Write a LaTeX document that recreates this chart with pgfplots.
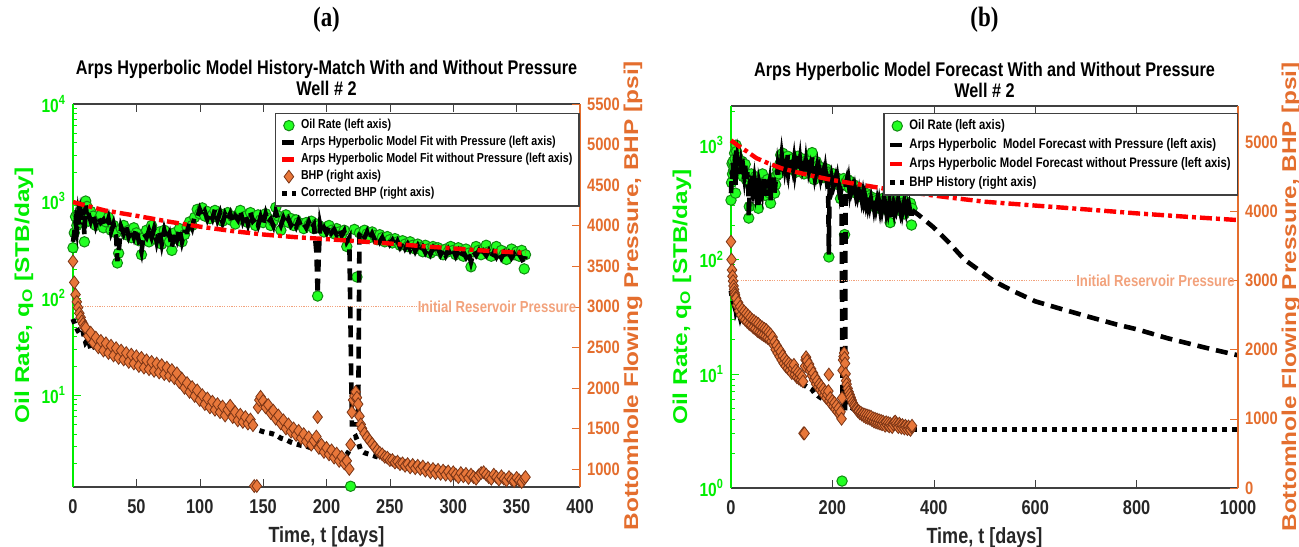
\documentclass[border=0pt]{standalone}
\usepackage{fontspec}
\setmainfont{Liberation Sans}[FakeStretch=0.82]
\newfontfamily\rotfont{Liberation Sans}[FakeStretch=1.22]
\newfontfamily\serfont{Liberation Serif}[FakeStretch=0.82]
\usepackage{pgfplots}
\usepackage{pgfplotstable}
\pgfplotsset{compat=1.18}
\definecolor{qGreen}{HTML}{00EE00}
\definecolor{qFill}{HTML}{22FF22}
\definecolor{qEdge}{HTML}{128A12}
\definecolor{pOrange}{HTML}{E46E2E}
\definecolor{pFill}{HTML}{E8773A}
\definecolor{pEdge}{HTML}{7A3516}
\definecolor{irp}{HTML}{F2A27C}
\definecolor{axGray}{HTML}{404040}

% oil rate history (STB/day)
\pgfplotstableread[row sep=\\]{
t q\\
0 330\\ 1 470\\ 2 690\\ 3 560\\ 4 720\\ 5 600\\ 6 640\\ 7 850\\ 8 760\\ 9 380\\ 10 1000\\ 11 880\\ 12 620\\ 13 740\\ 14 780\\ 16 700\\ 18 560\\ 20 640\\ 22 720\\ 24 530\\ 26 610\\ 28 680\\ 30 500\\ 32 560\\ 34 470\\ 35 230\\ 36 290\\ 38 520\\ 40 560\\ 42 450\\ 44 500\\ 46 420\\ 48 530\\ 50 470\\ 52 390\\ 54 280\\ 56 420\\ 58 500\\ 60 380\\ 62 560\\ 64 450\\ 66 400\\ 68 480\\ 70 360\\ 72 500\\ 74 430\\ 76 380\\ 78 310\\ 80 470\\ 82 410\\ 84 520\\ 86 380\\ 88 450\\ 90 540\\ 92 610\\ 94 560\\ 96 680\\ 98 820\\ 100 740\\ 102 850\\ 104 700\\ 106 780\\ 108 660\\ 110 720\\ 112 800\\ 114 680\\ 116 740\\ 118 620\\ 120 700\\ 122 760\\ 124 640\\ 126 690\\ 128 580\\ 130 720\\ 132 800\\ 134 650\\ 136 700\\ 138 600\\ 140 760\\ 142 680\\ 144 560\\ 146 720\\ 148 640\\ 150 600\\ 152 740\\ 154 660\\ 156 560\\ 158 620\\ 160 860\\ 162 700\\ 164 500\\ 166 640\\ 168 720\\ 170 600\\ 172 660\\ 174 560\\ 176 640\\ 178 600\\ 180 580\\ 182 520\\ 184 600\\ 186 560\\ 188 620\\ 190 520\\ 192 580\\ 193 105\\ 194 560\\ 196 520\\ 198 480\\ 200 540\\ 202 560\\ 204 500\\ 206 460\\ 208 520\\ 210 480\\ 212 450\\ 214 500\\ 216 340\\ 219 1.15\\ 222 510\\ 224 165\\ 226 470\\ 228 440\\ 230 500\\ 232 460\\ 234 420\\ 236 480\\ 238 440\\ 240 400\\ 242 450\\ 244 420\\ 246 380\\ 248 430\\ 250 400\\ 252 370\\ 254 410\\ 256 380\\ 258 350\\ 260 390\\ 262 360\\ 264 340\\ 266 380\\ 268 350\\ 270 320\\ 272 360\\ 274 330\\ 276 300\\ 278 350\\ 280 320\\ 282 290\\ 284 340\\ 286 310\\ 288 330\\ 290 300\\ 292 280\\ 294 320\\ 296 300\\ 298 340\\ 300 310\\ 302 280\\ 304 330\\ 306 300\\ 308 270\\ 310 320\\ 312 290\\ 314 210\\ 316 300\\ 318 340\\ 320 310\\ 322 280\\ 324 320\\ 326 350\\ 328 300\\ 330 270\\ 332 320\\ 334 340\\ 336 290\\ 338 310\\ 340 280\\ 342 250\\ 344 300\\ 346 320\\ 348 280\\ 350 300\\ 352 270\\ 354 310\\ 356 200\\ 357 280\\
}\oilrate

% Arps hyperbolic model with pressure, history period
\pgfplotstableread[row sep=\\]{
t q\\
0 380\\ 1 470\\ 2 600\\ 3 500\\ 4 700\\ 5 560\\ 6 740\\ 7 620\\ 8 820\\ 9 450\\ 10 900\\ 11 700\\ 12 760\\ 14 620\\ 16 740\\ 18 560\\ 20 680\\ 22 600\\ 24 640\\ 26 540\\ 28 660\\ 30 480\\ 32 580\\ 34 440\\ 35 240\\ 36 300\\ 38 540\\ 40 460\\ 42 540\\ 44 430\\ 46 500\\ 48 420\\ 50 520\\ 52 380\\ 54 300\\ 56 460\\ 58 420\\ 60 500\\ 62 420\\ 64 520\\ 66 380\\ 68 500\\ 70 360\\ 72 500\\ 74 400\\ 76 460\\ 78 330\\ 80 480\\ 82 400\\ 84 520\\ 86 380\\ 88 480\\ 90 480\\ 92 620\\ 94 530\\ 96 700\\ 98 680\\ 100 820\\ 102 700\\ 104 780\\ 106 650\\ 108 760\\ 110 660\\ 112 820\\ 114 640\\ 116 760\\ 118 600\\ 120 730\\ 122 640\\ 124 740\\ 126 600\\ 128 700\\ 130 640\\ 132 800\\ 134 620\\ 136 730\\ 138 580\\ 140 760\\ 142 620\\ 144 660\\ 146 560\\ 148 690\\ 150 580\\ 152 740\\ 154 600\\ 156 650\\ 158 560\\ 160 780\\ 162 640\\ 164 560\\ 166 670\\ 168 580\\ 170 650\\ 172 560\\ 174 610\\ 176 540\\ 178 630\\ 180 550\\ 182 590\\ 184 530\\ 186 610\\ 188 520\\ 190 570\\ 192 300\\ 193 110\\ 194 300\\ 195 560\\ 196 480\\ 198 530\\ 200 470\\ 202 550\\ 204 470\\ 206 510\\ 208 450\\ 210 510\\ 212 440\\ 214 490\\ 216 380\\ 218 420\\ 220 5\\ 225 5\\ 226 450\\ 228 490\\ 230 420\\ 232 480\\ 234 400\\ 236 460\\ 238 400\\ 240 430\\ 242 380\\ 244 420\\ 246 370\\ 248 410\\ 250 360\\ 252 395\\ 254 345\\ 256 385\\ 258 335\\ 260 375\\ 262 325\\ 264 360\\ 266 315\\ 268 355\\ 270 305\\ 272 345\\ 274 300\\ 276 335\\ 278 295\\ 280 330\\ 282 285\\ 284 325\\ 286 285\\ 288 320\\ 290 280\\ 292 315\\ 294 275\\ 296 315\\ 298 275\\ 300 310\\ 302 270\\ 304 305\\ 306 265\\ 308 300\\ 310 265\\ 312 300\\ 314 235\\ 316 300\\ 318 275\\ 320 305\\ 322 265\\ 324 300\\ 326 275\\ 328 305\\ 330 265\\ 332 295\\ 334 265\\ 336 300\\ 338 260\\ 340 290\\ 342 255\\ 344 290\\ 346 260\\ 348 285\\ 350 255\\ 352 285\\ 354 255\\ 356 225\\ 357 270\\
}\modelp

% forecast with pressure beyond history
\pgfplotstableread[row sep=\\]{
t q\\
357 270\\ 370 245\\ 380 225\\ 400 190\\ 430 140\\ 460 100\\ 490 80\\ 520 64\\ 560 52\\ 600 43\\ 650 37\\ 700 32\\ 760 27\\ 800 24.5\\ 860 20.5\\ 900 18.5\\ 950 16.3\\ 1000 14.5\\
}\fcastp

% Arps hyperbolic without pressure
\pgfplotstableread[row sep=\\]{
t q\\
0 977\\ 10 900\\ 25 800\\ 50 705\\ 75 615\\ 100 545\\ 125 492\\ 150 452\\ 175 425\\ 200 405\\ 225 385\\ 250 365\\ 275 343\\ 300 325\\ 325 308\\ 357 292\\
}\fitA
\pgfplotstableread[row sep=\\]{
t q\\
0 1100\\ 10 1020\\ 20 950\\ 30 890\\ 50 770\\ 75 690\\ 100 626\\ 150 551\\ 200 495\\ 250 455\\ 300 418\\ 357 385\\ 400 362\\ 450 340\\ 500 320\\ 600 296\\ 700 274\\ 800 253\\ 900 236\\ 1000 221\\
}\fitB

% bottomhole pressure (psi)
\pgfplotstableread[row sep=\\]{
t p\\
0 3560\\ 1 3300\\ 2 3150\\ 3 3060\\ 4 2990\\ 5 2920\\ 6 2870\\ 7 2820\\ 8 2790\\ 9 2750\\ 10 2740\\ 12 2640\\ 14 2680\\ 16 2560\\ 18 2620\\ 20 2500\\ 22 2580\\ 24 2460\\ 26 2550\\ 28 2430\\ 30 2520\\ 32 2400\\ 34 2490\\ 36 2370\\ 38 2460\\ 40 2350\\ 42 2430\\ 44 2320\\ 46 2410\\ 48 2300\\ 50 2390\\ 52 2270\\ 54 2370\\ 56 2250\\ 58 2340\\ 60 2230\\ 62 2320\\ 64 2210\\ 66 2300\\ 68 2190\\ 70 2280\\ 72 2170\\ 74 2250\\ 76 2150\\ 78 2220\\ 80 2120\\ 82 2180\\ 84 2070\\ 86 2110\\ 88 2000\\ 90 2060\\ 92 1950\\ 94 2010\\ 96 1900\\ 98 1970\\ 100 1850\\ 102 1910\\ 104 1800\\ 106 1870\\ 108 1760\\ 110 1830\\ 112 1730\\ 114 1800\\ 116 1700\\ 118 1770\\ 120 1660\\ 122 1730\\ 124 1780\\ 126 1640\\ 128 1700\\ 130 1600\\ 132 1670\\ 134 1580\\ 136 1640\\ 138 1560\\ 140 1610\\ 142 1540\\ 143 790\\ 145 790\\ 146 1760\\ 147 1850\\ 148 1890\\ 150 1840\\ 152 1760\\ 154 1790\\ 156 1690\\ 158 1720\\ 160 1620\\ 162 1660\\ 164 1560\\ 166 1600\\ 168 1500\\ 170 1550\\ 172 1460\\ 174 1500\\ 176 1420\\ 178 1470\\ 180 1380\\ 182 1430\\ 184 1340\\ 186 1390\\ 188 1300\\ 190 1350\\ 192 1400\\ 193 1640\\ 194 1260\\ 196 1300\\ 198 1210\\ 200 1260\\ 202 1180\\ 204 1230\\ 206 1140\\ 208 1190\\ 210 1100\\ 212 1150\\ 214 1070\\ 216 1100\\ 218 1000\\ 219 1300\\ 220 1700\\ 221 1850\\ 222 1900\\ 223 1950\\ 224 1880\\ 225 1800\\ 226 1650\\ 227 1550\\ 228 1500\\ 230 1440\\ 232 1390\\ 234 1350\\ 236 1310\\ 238 1270\\ 240 1230\\ 242 1200\\ 244 1180\\ 246 1150\\ 248 1140\\ 250 1110\\ 252 1110\\ 254 1080\\ 256 1090\\ 258 1060\\ 260 1070\\ 262 1040\\ 264 1060\\ 266 1020\\ 268 1050\\ 270 1010\\ 272 1040\\ 274 1000\\ 276 1030\\ 278 980\\ 280 1010\\ 282 960\\ 284 1000\\ 286 950\\ 288 990\\ 290 940\\ 292 980\\ 294 930\\ 296 970\\ 298 920\\ 300 960\\ 302 930\\ 304 900\\ 306 950\\ 308 910\\ 310 940\\ 312 890\\ 314 930\\ 316 900\\ 318 880\\ 320 920\\ 322 950\\ 324 960\\ 326 930\\ 328 900\\ 330 880\\ 332 930\\ 334 900\\ 336 870\\ 338 910\\ 340 880\\ 342 860\\ 344 900\\ 346 870\\ 348 850\\ 350 890\\ 352 860\\ 354 840\\ 356 880\\ 357 900\\
}\bhp

% corrected BHP (psi)
\pgfplotstableread[row sep=\\]{
t p\\
0 2850\\ 2 2760\\ 4 2700\\ 6 2650\\ 8 2680\\ 10 2560\\ 12 2600\\ 14 2480\\ 16 2530\\ 18 2470\\ 20 2520\\ 24 2450\\ 28 2500\\ 32 2430\\ 36 2460\\ 40 2380\\ 44 2400\\ 48 2350\\ 52 2370\\ 56 2310\\ 60 2320\\ 64 2280\\ 68 2290\\ 72 2240\\ 76 2250\\ 80 2210\\ 84 2180\\ 88 2100\\ 92 2050\\ 96 2000\\ 100 1930\\ 104 1880\\ 108 1830\\ 112 1790\\ 116 1760\\ 120 1720\\ 124 1700\\ 128 1660\\ 132 1640\\ 136 1600\\ 140 1540\\ 144 1490\\ 148 1470\\ 152 1450\\ 156 1440\\ 160 1420\\ 164 1380\\ 168 1360\\ 172 1330\\ 176 1310\\ 180 1290\\ 184 1280\\ 188 1260\\ 192 1250\\ 196 1240\\ 200 1230\\ 204 1210\\ 208 1200\\ 212 1190\\ 216 1180\\ 219 1250\\ 221 1380\\ 223 1400\\ 225 1330\\ 227 1230\\ 230 1200\\ 234 1180\\ 238 1160\\ 242 1140\\ 246 1130\\ 250 1110\\ 254 1100\\ 258 1090\\ 262 1080\\ 266 1070\\ 270 1060\\ 274 1050\\ 278 1040\\ 282 1030\\ 286 1020\\ 290 1010\\ 294 1000\\ 298 990\\ 302 970\\ 306 960\\ 310 950\\ 314 940\\ 318 930\\ 322 920\\ 326 910\\ 330 900\\ 334 895\\ 338 890\\ 342 880\\ 346 875\\ 350 870\\ 354 860\\ 357 850\\
}\bhpcor

\pgfplotsset{
  oilmk/.style={only marks, mark=*, mark size=2.6pt, mark options={fill=qFill, draw=qEdge, line width=0.5pt}},
  fitp/.style={black, line width=2.3pt, dash pattern=on 6pt off 3.5pt},
  fitnp/.style={red, line width=2.2pt, dash pattern=on 6pt off 2pt on 2pt off 2pt},
  bhpmk/.style={only marks, mark=diamond*, mark size=3.2pt, mark options={fill=pFill, draw=pEdge, line width=0.4pt}},
  bhpc/.style={black, line width=2.5pt, dash pattern=on 2.5pt off 2.5pt},
  irpline/.style={irp, line width=0.5pt, dash pattern=on 0.6pt off 0.6pt},
  panel/.style={scale only axis, width=253.5pt, clip=false, xmin=0,
    tick align=inside, major tick length=4pt, minor tick length=2pt,
    /pgf/number format/assume math mode=true, /pgf/number format/1000 sep={},
    legend cell align=left,
    legend image code/.code={\draw[mark repeat=2,mark phase=2,##1] plot coordinates {(0cm,0cm) (0.12cm,0cm) (0.24cm,0cm)};},
    legend style={draw=axGray, line width=0.8pt, fill=white,
      inner xsep=2pt, inner ysep=1.5pt, nodes={inner sep=1.4pt}},
  },
  overlay/.style={scale only axis, width=253.5pt, clip=false, xmin=0, hide axis},
  leftax/.style={panel, axis x line*=box, axis y line*=left, xtick pos=both,
    x axis line style={draw=axGray, line width=0.7pt}, y axis line style={draw=qGreen, line width=0.6pt},
    xtick style={draw=axGray}, ytick style={draw=qGreen}, minor tick style={draw=qGreen},
    xticklabel style={font=\fontsize{10}{12}\selectfont\bfseries, text=black!85, yshift=-2.5pt},
    yticklabel style={font=\fontsize{9.5}{11}\selectfont\bfseries, text=qGreen},
    xlabel style={font=\fontsize{11}{13}\selectfont\bfseries, text=black!85},
    ylabel style={font=\rotfont\fontsize{10}{12}\selectfont\bfseries, text=qGreen,
      at={(rel axis cs:-0.0966,0.5)}, anchor=center},
    title style={font=\fontsize{9.9}{10.5}\selectfont\bfseries, align=center, inner sep=0pt, yshift=-2pt},
  },
  rightax/.style={panel, axis x line=none, axis y line*=right,
    y axis line style={draw=pOrange, line width=0.6pt}, ytick style={draw=pOrange},
    yticklabel style={font=\fontsize{9}{11}\selectfont\bfseries, text=pOrange},
    ylabel style={font=\rotfont\fontsize{10}{12}\selectfont\bfseries, text=pOrange,
      at={(rel axis cs:1.1045,0.5)}, anchor=center},
  },
}

\begin{document}
\begin{tikzpicture}
\useasboundingbox (-36.5pt,-29.5pt) rectangle (613pt,243.5pt);

% ---------- panel (a) ----------
\begin{axis}[leftax, ymode=log, at={(0pt,0pt)}, anchor=south west, height=191.5pt,
  xmax=400, xtick={0,50,...,400},
  ymin=1.13, ymax=10000, ytick={10,100,1000,10000},
  yticklabels={10\textsuperscript{1},10\textsuperscript{2},10\textsuperscript{3},10\textsuperscript{4}},
  minor ytick={2,3,4,5,6,7,8,9,20,30,40,50,60,70,80,90,200,300,400,500,600,700,800,900,2000,3000,4000,5000,6000,7000,8000,9000},
  xlabel={Time, t [days]}, ylabel={Oil Rate, q\textsubscript{O} [STB/day]},
  title={Arps Hyperbolic Model History-Match With and Without Pressure\\Well \# 2}]
\addplot[oilmk] table[x=t,y=q] {\oilrate};
\node[anchor=base, yshift=39pt, font=\serfont\fontsize{14}{16}\selectfont\bfseries] at (rel axis cs:0.5,1) {(a)};
\end{axis}
% model curves drawn over the rate markers
\begin{axis}[overlay, ymode=log, at={(0pt,0pt)}, anchor=south west, height=191.5pt,
  xmax=400, ymin=1.13, ymax=10000]
\addplot[fitp] table[x=t,y=q] {\modelp};
\addplot[fitnp] table[x=t,y=q] {\fitA};
\end{axis}
\begin{axis}[rightax, at={(0pt,0pt)}, anchor=south west, height=191.5pt,
  xmax=400, ymin=778, ymax=5500, ytick={1000,1500,...,5500},
  ylabel={Bottomhole Flowing Pressure, BHP [psi]},
  legend style={at={(0.398,0.977)}, anchor=north west, row sep=-0.5pt, font=\fontsize{6.5}{7}\selectfont\bfseries}]
\addlegendimage{oilmk}\addlegendentry{Oil Rate (left axis)}
\addlegendimage{fitp}\addlegendentry{Arps Hyperbolic Model Fit with Pressure (left axis)}
\addlegendimage{fitnp}\addlegendentry{Arps Hyperbolic Model Fit without Pressure (left axis)}
\addplot[irpline, forget plot] coordinates {(0,3000) (275,3000)};
\node[anchor=east, inner sep=0.5pt, text=irp, font=\fontsize{8}{9}\selectfont\bfseries] at (axis cs:398,3000) {Initial Reservoir Pressure};
\addplot[bhpmk] table[x=t,y=p] {\bhp};
\addlegendentry{BHP (right axis)}
\addplot[bhpc] table[x=t,y=p] {\bhpcor};
\addlegendentry{Corrected BHP (right axis)}
\end{axis}

% ---------- panel (b) ----------
\begin{axis}[leftax, ymode=log, at={(329pt,-0.5pt)}, anchor=south west, height=191pt,
  xmax=1000, xtick={0,200,...,1000},
  ymin=1, ymax=2200, ytick={1,10,100,1000},
  yticklabels={10\textsuperscript{0},10\textsuperscript{1},10\textsuperscript{2},10\textsuperscript{3}},
  minor ytick={2,3,4,5,6,7,8,9,20,30,40,50,60,70,80,90,200,300,400,500,600,700,800,900,2000},
  xlabel={Time, t [days]}, ylabel={Oil Rate, q\textsubscript{O} [STB/day]},
  title={Arps Hyperbolic Model Forecast With and Without Pressure\\Well \# 2}]
\addplot[oilmk] table[x=t,y=q] {\oilrate};
\node[anchor=base, yshift=40pt, font=\serfont\fontsize{14}{16}\selectfont\bfseries] at (rel axis cs:0.5,1) {(b)};
\end{axis}
\begin{axis}[overlay, ymode=log, at={(329pt,-0.5pt)}, anchor=south west, height=191pt,
  xmax=1000, ymin=1, ymax=2200]
\addplot[fitp] table[x=t,y=q] {\modelp};
\addplot[fitp] table[x=t,y=q] {\fcastp};
\addplot[fitnp] table[x=t,y=q] {\fitB};
\end{axis}
\begin{axis}[rightax, at={(329pt,-0.5pt)}, anchor=south west, height=191pt,
  xmax=1000, ymin=0, ymax=5520, ytick={0,1000,...,5000},
  ylabel={Bottomhole Flowing Pressure, BHP [psi]},
  legend style={at={(0.300,0.982)}, anchor=north west, row sep=0.2pt, font=\fontsize{6.9}{7.4}\selectfont\bfseries}]
\addlegendimage{oilmk}\addlegendentry{Oil Rate (left axis)}
\addlegendimage{fitp}\addlegendentry{Arps Hyperbolic\ \ Model Forecast with Pressure (left axis)}
\addlegendimage{fitnp}\addlegendentry{Arps Hyperbolic Model Forecast without Pressure (left axis)}
\addplot[irpline, forget plot] coordinates {(0,3000) (682,3000)};
\node[anchor=east, inner sep=0.5pt, text=irp, font=\fontsize{8}{9}\selectfont\bfseries] at (axis cs:996,3000) {Initial Reservoir Pressure};
\addplot[bhpmk, forget plot] table[x=t,y=p] {\bhp};
\addplot[bhpc] table[x=t,y=p] {\bhpcor};
\addlegendentry{BHP History (right axis)}
\addplot[bhpc, forget plot] coordinates {(357,850) (1000,850)};
\end{axis}
\end{tikzpicture}
\end{document}
